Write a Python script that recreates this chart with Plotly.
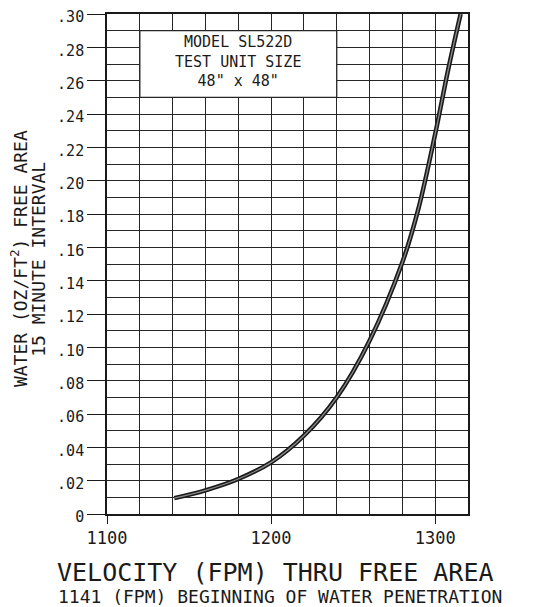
import plotly.graph_objects as go

# data
velocity = [1141, 1160, 1180, 1200, 1220, 1240, 1260, 1280, 1290, 1300, 1308, 1315.5]
water = [0.0095, 0.0142, 0.021, 0.031, 0.047, 0.070, 0.104, 0.151, 0.184, 0.228, 0.267, 0.30]

y_tickvals = [0, 0.02, 0.04, 0.06, 0.08, 0.10, 0.12, 0.14, 0.16, 0.18, 0.20, 0.22, 0.24, 0.26, 0.28, 0.30]
y_ticktext = ["0", ".02", ".04", ".06", ".08", ".10", ".12", ".14", ".16", ".18", ".20",
              ".22", ".24", ".26", ".28", ".30"]
x_tickvals = [1100, 1200, 1300]
x_ticktext = ["1100", "1200", "1300"]

box_text = "MODEL SL522D<br>TEST UNIT SIZE<br>48\" x 48\""

FONT = "DejaVu Sans Mono"
INK = "#1a1a1a"
GRID = "#262626"

fig = go.Figure()
fig.add_trace(go.Scatter(x=velocity, y=water, mode="lines", line=dict(color=INK, width=4.5, shape="spline"),
                         hoverinfo="skip", showlegend=False))
fig.add_trace(go.Scatter(x=velocity, y=water, mode="lines", line=dict(color="#8a8a8a", width=1.3, shape="spline"),
                         hoverinfo="skip", showlegend=False))

fig.add_shape(type="rect", x0=1120, x1=1240, y0=0.25, y1=0.29, xref="x", yref="y",
              fillcolor="white", line=dict(color=GRID, width=1.3), layer="between")

fig.add_annotation(x=1180, y=0.2715, xref="x", yref="y", text=box_text, showarrow=False,
                   font=dict(family=FONT, size=15, color=INK), xanchor="center", yanchor="middle")

fig.add_annotation(x=0.4668, y=-0.116, xref="paper", yref="paper", showarrow=False,
                   text="VELOCITY (FPM) THRU FREE AREA", font=dict(family=FONT, size=25, color=INK),
                   xanchor="center", yanchor="middle")
fig.add_annotation(x=0.479, y=-0.165, xref="paper", yref="paper", showarrow=False,
                   text="1141 (FPM) BEGINNING OF WATER PENETRATION", font=dict(family=FONT, size=18, color=INK),
                   xanchor="center", yanchor="middle")
fig.add_annotation(x=-0.2435, y=0.51, xref="paper", yref="paper", showarrow=False, textangle=-90,
                   text="WATER (OZ/FT<sup>2</sup>) FREE AREA", font=dict(family=FONT, size=18, color=INK),
                   xanchor="center", yanchor="middle")
fig.add_annotation(x=-0.1915, y=0.51, xref="paper", yref="paper", showarrow=False, textangle=-90,
                   text="15 MINUTE INTERVAL", font=dict(family=FONT, size=18, color=INK),
                   xanchor="center", yanchor="middle")

# page body adds an 8px margin, so the figure is sized/margined to compensate
fig.update_layout(
    width=541, height=599,
    margin=dict(l=99, r=81, t=6, b=93, autoexpand=False),
    paper_bgcolor="white", plot_bgcolor="white",
    showlegend=False,
    xaxis=dict(range=[1100, 1320], tickvals=x_tickvals, ticktext=x_ticktext, automargin=False,
               ticks="outside", ticklen=8, tickwidth=1.3, tickcolor=INK, ticklabeloverflow="allow",
               showgrid=True, gridcolor=GRID, gridwidth=1.2,
               minor=dict(dtick=20, tick0=1100, showgrid=True, gridcolor=GRID, gridwidth=1.2, ticks=""),
               showline=True, linecolor=INK, linewidth=1.6, mirror=True, zeroline=False,
               tickfont=dict(family=FONT, size=17, color=INK), fixedrange=True),
    yaxis=dict(range=[0, 0.30], tickvals=y_tickvals, ticktext=y_ticktext, automargin=False,
               ticks="outside", ticklen=18, tickwidth=1.3, tickcolor=INK, ticklabeloverflow="allow",
               ticklabelshift=3,
               showgrid=True, gridcolor=GRID, gridwidth=1.2,
               minor=dict(dtick=0.01, tick0=0, showgrid=True, gridcolor=GRID, gridwidth=1.2, ticks=""),
               showline=True, linecolor=INK, linewidth=1.6, mirror=True, zeroline=False,
               tickfont=dict(family=FONT, size=15, color=INK), fixedrange=True),
)

fig.write_html("out.html")
